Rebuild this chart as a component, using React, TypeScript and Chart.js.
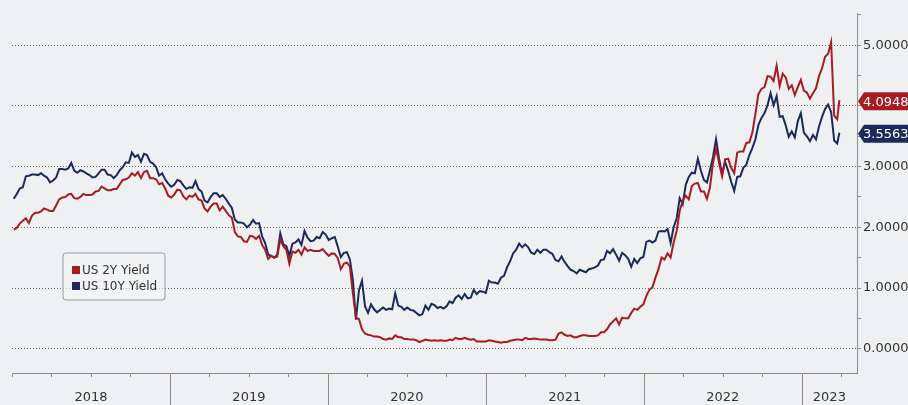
import React, { useEffect, useRef } from "react";
import { Chart, registerables } from "chart.js";

Chart.register(...registerables);

// Weekly observations (Fridays), starting on the first week of 2018; last point is 29 Mar 2023
const FIRST_WEEK = "2018-01-05";
const LAST_DATE = "2023-03-29";

const SERIES_NAMES = ["US 2Y Yield", "US 10Y Yield"];
const SERIES_COLORS = ["#a51d23", "#1b2a5a"];

const US2Y: number[] = [
  // 2018
  1.96, 1.99, 2.06, 2.11, 2.15, 2.07, 2.19, 2.24, 2.24, 2.26, 2.31, 2.29, 2.27,
  2.27, 2.36, 2.46, 2.49, 2.50, 2.54, 2.55, 2.48, 2.47, 2.50, 2.55, 2.53, 2.53,
  2.54, 2.59, 2.60, 2.67, 2.64, 2.61, 2.61, 2.63, 2.63, 2.71, 2.78, 2.79, 2.82,
  2.89, 2.85, 2.91, 2.81, 2.91, 2.93, 2.81, 2.81, 2.79, 2.71, 2.73, 2.64, 2.52,
  // 2019
  2.49, 2.54, 2.62, 2.61, 2.51, 2.46, 2.52, 2.50, 2.55, 2.46, 2.44, 2.31, 2.26,
  2.34, 2.39, 2.39, 2.28, 2.34, 2.27, 2.20, 2.16, 1.92, 1.85, 1.84, 1.77, 1.76,
  1.86, 1.85, 1.81, 1.86, 1.71, 1.63, 1.48, 1.53, 1.50, 1.52, 1.80, 1.69, 1.63,
  1.40, 1.60, 1.58, 1.63, 1.55, 1.67, 1.61, 1.63, 1.61, 1.61, 1.61, 1.64, 1.58,
  // 2020
  1.53, 1.57, 1.56, 1.49, 1.31, 1.40, 1.42, 1.35, 0.91, 0.51, 0.49, 0.32, 0.25,
  0.23, 0.22, 0.20, 0.20, 0.19, 0.16, 0.15, 0.17, 0.16, 0.22, 0.19, 0.19, 0.16,
  0.16, 0.15, 0.15, 0.14, 0.11, 0.13, 0.15, 0.14, 0.13, 0.14, 0.13, 0.14, 0.13,
  0.13, 0.15, 0.14, 0.18, 0.16, 0.16, 0.18, 0.16, 0.15, 0.16, 0.12, 0.12, 0.12,
  // 2021
  0.12, 0.14, 0.13, 0.12, 0.11, 0.10, 0.11, 0.11, 0.13, 0.14, 0.15, 0.15, 0.14,
  0.18, 0.16, 0.16, 0.17, 0.16, 0.15, 0.15, 0.15, 0.14, 0.14, 0.15, 0.25, 0.27,
  0.23, 0.21, 0.22, 0.19, 0.19, 0.21, 0.22, 0.22, 0.21, 0.21, 0.21, 0.22, 0.27,
  0.27, 0.32, 0.40, 0.45, 0.50, 0.40, 0.51, 0.50, 0.50, 0.59, 0.66, 0.64, 0.69, 0.73,
  // 2022
  0.87, 0.97, 1.01, 1.17, 1.31, 1.50, 1.47, 1.57, 1.50, 1.75, 1.94, 2.27,
  2.44, 2.52, 2.46, 2.68, 2.72, 2.73, 2.59, 2.59, 2.47, 2.66, 3.06, 3.30, 3.06,
  2.84, 3.12, 3.13, 2.98, 2.89, 3.23, 3.25, 3.25, 3.39, 3.40, 3.56, 3.87, 4.20, 4.28,
  4.31, 4.49, 4.48, 4.41, 4.66, 4.33, 4.53, 4.47, 4.28, 4.34, 4.18, 4.31, 4.43,
  // 2023
  4.25, 4.22, 4.12, 4.21, 4.29, 4.49, 4.62, 4.81, 4.86, 5.05, 3.84, 3.78, 4.0948,
];

const US10Y: number[] = [
  // 2018
  2.47, 2.55, 2.64, 2.66, 2.84, 2.85, 2.87, 2.87, 2.86, 2.89, 2.85, 2.82, 2.74,
  2.77, 2.82, 2.96, 2.96, 2.95, 2.97, 3.06, 2.93, 2.90, 2.94, 2.92, 2.89, 2.86,
  2.82, 2.83, 2.89, 2.95, 2.95, 2.87, 2.86, 2.81, 2.86, 2.94, 2.99, 3.07, 3.06,
  3.23, 3.16, 3.19, 3.08, 3.21, 3.19, 3.08, 3.05, 2.99, 2.85, 2.89, 2.79, 2.72,
  // 2019
  2.67, 2.70, 2.78, 2.76, 2.69, 2.63, 2.66, 2.65, 2.76, 2.63, 2.59, 2.44, 2.41,
  2.50, 2.56, 2.56, 2.50, 2.53, 2.47, 2.39, 2.32, 2.13, 2.08, 2.08, 2.06, 2.00,
  2.04, 2.12, 2.06, 2.07, 1.85, 1.74, 1.55, 1.53, 1.50, 1.55, 1.90, 1.72, 1.69,
  1.53, 1.73, 1.75, 1.80, 1.71, 1.94, 1.83, 1.77, 1.78, 1.84, 1.82, 1.92, 1.88,
  // 2020
  1.79, 1.82, 1.84, 1.68, 1.51, 1.58, 1.59, 1.47, 1.13, 0.48, 0.96, 1.12, 0.70,
  0.59, 0.73, 0.65, 0.60, 0.64, 0.68, 0.64, 0.66, 0.65, 0.91, 0.71, 0.69, 0.64,
  0.68, 0.64, 0.63, 0.59, 0.55, 0.57, 0.71, 0.64, 0.74, 0.72, 0.67, 0.69, 0.66,
  0.70, 0.78, 0.75, 0.84, 0.88, 0.82, 0.90, 0.83, 0.84, 0.97, 0.90, 0.95, 0.94,
  // 2021
  0.92, 1.12, 1.09, 1.09, 1.07, 1.17, 1.20, 1.34, 1.44, 1.57, 1.63, 1.73, 1.67,
  1.72, 1.67, 1.58, 1.56, 1.63, 1.58, 1.63, 1.63, 1.59, 1.56, 1.46, 1.44, 1.52,
  1.43, 1.36, 1.30, 1.28, 1.24, 1.30, 1.28, 1.26, 1.31, 1.32, 1.34, 1.37, 1.46,
  1.47, 1.61, 1.57, 1.64, 1.55, 1.45, 1.58, 1.54, 1.48, 1.35, 1.48, 1.41, 1.49, 1.51,
  // 2022
  1.76, 1.78, 1.75, 1.78, 1.93, 1.94, 1.93, 1.97, 1.74, 2.00, 2.15, 2.48,
  2.38, 2.70, 2.83, 2.90, 2.89, 3.13, 2.93, 2.78, 2.74, 2.94, 3.16, 3.45, 3.13,
  2.88, 3.08, 2.93, 2.75, 2.60, 2.83, 2.84, 2.98, 3.03, 3.19, 3.31, 3.45, 3.69, 3.80,
  3.88, 4.01, 4.21, 4.01, 4.16, 3.82, 3.83, 3.68, 3.49, 3.58, 3.48, 3.75, 3.88,
  // 2023
  3.56, 3.50, 3.42, 3.52, 3.45, 3.66, 3.82, 3.95, 4.02, 3.90, 3.43, 3.38, 3.5563,
];

const YEAR_LABELS = ["2018", "2019", "2020", "2021", "2022", "2023"];
const Y_MAJOR_TICKS = [0, 1, 2, 3, 4, 5];
const Y_MINOR_TICKS = [0.5, 1.5, 2.5, 3.5, 4.5, 5.5];
const X_MIN = 2018;
const X_MAX = 2023.35;
const Y_MIN = -0.4;
const Y_MAX = 5.53;

const BG = "#eff0f2";
const AXIS = "#8c8c8c";
const TEXT = "#333333";
const FONT = "'DejaVu Sans', Verdana, sans-serif";

function yearFrac(d: Date): number {
  const y = d.getUTCFullYear();
  const s = Date.UTC(y, 0, 1);
  const e = Date.UTC(y + 1, 0, 1);
  return y + (d.getTime() - s) / (e - s);
}

function buildDates(n: number): number[] {
  const start = Date.parse(FIRST_WEEK + "T00:00:00Z");
  const out: number[] = [];
  for (let i = 0; i < n; i++) out.push(yearFrac(new Date(start + i * 7 * 86400000)));
  out[n - 1] = yearFrac(new Date(Date.parse(LAST_DATE + "T00:00:00Z")));
  return out;
}

const bgPlugin = {
  id: "bg",
  beforeDraw(chart: any) {
    const { ctx } = chart;
    ctx.save();
    ctx.fillStyle = BG;
    ctx.fillRect(0, 0, chart.width, chart.height);
    ctx.restore();
  },
};

const xTicksPlugin = {
  id: "xTicks",
  afterDraw(chart: any) {
    const { ctx, chartArea } = chart;
    const xs = chart.scales.x;
    ctx.save();
    ctx.strokeStyle = AXIS;
    ctx.lineWidth = 1;
    for (let q = X_MIN; q <= X_MAX + 1e-9; q += 0.25) {
      const px = Math.round(xs.getPixelForValue(q)) + 0.5;
      const isYear = Math.abs(q - Math.round(q)) < 1e-6 && q > X_MIN;
      ctx.beginPath();
      ctx.moveTo(px, chartArea.bottom);
      ctx.lineTo(px, isYear ? chart.height : chartArea.bottom + 4);
      ctx.stroke();
    }
    ctx.restore();
  },
};

const legendPlugin = {
  id: "boxLegend",
  afterDraw(chart: any) {
    const { ctx } = chart;
    const x = 63, y = 253, w = 102, h = 47, r = 3;
    ctx.save();
    ctx.beginPath();
    ctx.moveTo(x + r, y);
    ctx.lineTo(x + w - r, y);
    ctx.quadraticCurveTo(x + w, y, x + w, y + r);
    ctx.lineTo(x + w, y + h - r);
    ctx.quadraticCurveTo(x + w, y + h, x + w - r, y + h);
    ctx.lineTo(x + r, y + h);
    ctx.quadraticCurveTo(x, y + h, x, y + h - r);
    ctx.lineTo(x, y + r);
    ctx.quadraticCurveTo(x, y, x + r, y);
    ctx.closePath();
    ctx.fillStyle = "rgba(244,245,246,0.6)";
    ctx.fill();
    ctx.strokeStyle = "#9a9a9a";
    ctx.lineWidth = 1;
    ctx.stroke();
    ctx.font = `12px ${FONT}`;
    ctx.textBaseline = "middle";
    chart.data.datasets.forEach((ds: any, i: number) => {
      const cy = y + 17 + i * 16;
      ctx.fillStyle = ds.borderColor;
      ctx.fillRect(x + 9, cy - 4, 8, 8);
      ctx.fillStyle = TEXT;
      ctx.fillText(ds.label, x + 19, cy + 0.5);
    });
    ctx.restore();
  },
};

const endLabelPlugin = {
  id: "endLabels",
  afterDraw(chart: any) {
    const { ctx, chartArea } = chart;
    const ys = chart.scales.y;
    ctx.save();
    chart.data.datasets.forEach((ds: any) => {
      const last = ds.data[ds.data.length - 1].y;
      const py = ys.getPixelForValue(last) + 1;
      const x0 = chartArea.right + 1;
      const hh = 9;
      ctx.beginPath();
      ctx.moveTo(x0, py);
      ctx.lineTo(x0 + 6, py - hh);
      ctx.lineTo(chart.width, py - hh);
      ctx.lineTo(chart.width, py + hh);
      ctx.lineTo(x0 + 6, py + hh);
      ctx.closePath();
      ctx.fillStyle = ds.borderColor;
      ctx.fill();
      ctx.fillStyle = "#ffffff";
      ctx.font = `13px ${FONT}`;
      ctx.textBaseline = "middle";
      ctx.textAlign = "left";
      ctx.fillText(last.toFixed(4), x0 + 5, py + 1);
    });
    ctx.restore();
  },
};

export default function App() {
  const ref = useRef<HTMLCanvasElement | null>(null);

  useEffect(() => {
    document.body.style.margin = "0";
    document.body.style.background = BG;
    const canvas = ref.current;
    if (!canvas) return;
    const xs = buildDates(US2Y.length);
    const chart = new Chart(canvas, {
      type: "line",
      data: {
        datasets: [
          {
            label: SERIES_NAMES[0],
            data: US2Y.map((v, i) => ({ x: xs[i], y: v })),
            borderColor: SERIES_COLORS[0],
            backgroundColor: SERIES_COLORS[0],
            borderWidth: 2,
            pointRadius: 0,
            tension: 0,
          },
          {
            label: SERIES_NAMES[1],
            data: US10Y.map((v, i) => ({ x: xs[i], y: v })),
            borderColor: SERIES_COLORS[1],
            backgroundColor: SERIES_COLORS[1],
            borderWidth: 2,
            pointRadius: 0,
            tension: 0,
          },
        ],
      },
      options: {
        animation: false,
        responsive: false,
        maintainAspectRatio: false,
        layout: { padding: { left: 12, top: 13, right: 0, bottom: 0 } },
        plugins: { legend: { display: false }, tooltip: { enabled: false } },
        scales: {
          x: {
            type: "linear",
            min: X_MIN,
            max: X_MAX,
            afterBuildTicks: (s: any) => {
              s.ticks = YEAR_LABELS.map((_, i) => ({
                value: i < YEAR_LABELS.length - 1 ? X_MIN + i + 0.5 : (X_MIN + i + X_MAX) / 2,
              }));
            },
            afterFit: (s: any) => {
              s.height = 32;
            },
            ticks: {
              autoSkip: false,
              maxRotation: 0,
              padding: 17,
              color: TEXT,
              font: { family: FONT, size: 13 },
              callback: (_v: any, i: number) => YEAR_LABELS[i],
            },
            grid: { display: false, drawTicks: false },
            border: { display: true, color: AXIS, width: 1 },
          },
          y: {
            type: "linear",
            position: "right",
            min: Y_MIN,
            max: Y_MAX,
            afterBuildTicks: (s: any) => {
              s.ticks = [...Y_MAJOR_TICKS, ...Y_MINOR_TICKS]
                .sort((a, b) => a - b)
                .map((v) => ({ value: v }));
            },
            afterFit: (s: any) => {
              s.width = 51;
            },
            ticks: {
              padding: 2,
              color: TEXT,
              font: { family: FONT, size: 13 },
              callback: (v: any) => (Y_MAJOR_TICKS.includes(v) ? Number(v).toFixed(4) : ""),
            },
            grid: {
              color: (c: any) =>
                c.tick && Y_MAJOR_TICKS.includes(c.tick.value) ? "#6a6a6a" : "rgba(0,0,0,0)",
              lineWidth: 1,
              drawTicks: true,
              tickLength: 4,
              tickColor: AXIS,
              tickBorderDash: [],
            },
            border: { display: true, color: AXIS, width: 1, dash: [1, 2] },
          },
        },
      },
      plugins: [bgPlugin, xTicksPlugin, legendPlugin, endLabelPlugin],
    } as any);
    return () => chart.destroy();
  }, []);

  return (
    <div style={{ width: 908, height: 405 }}>
      <canvas ref={ref} width={908} height={405} style={{ display: "block" }} />
    </div>
  );
}
